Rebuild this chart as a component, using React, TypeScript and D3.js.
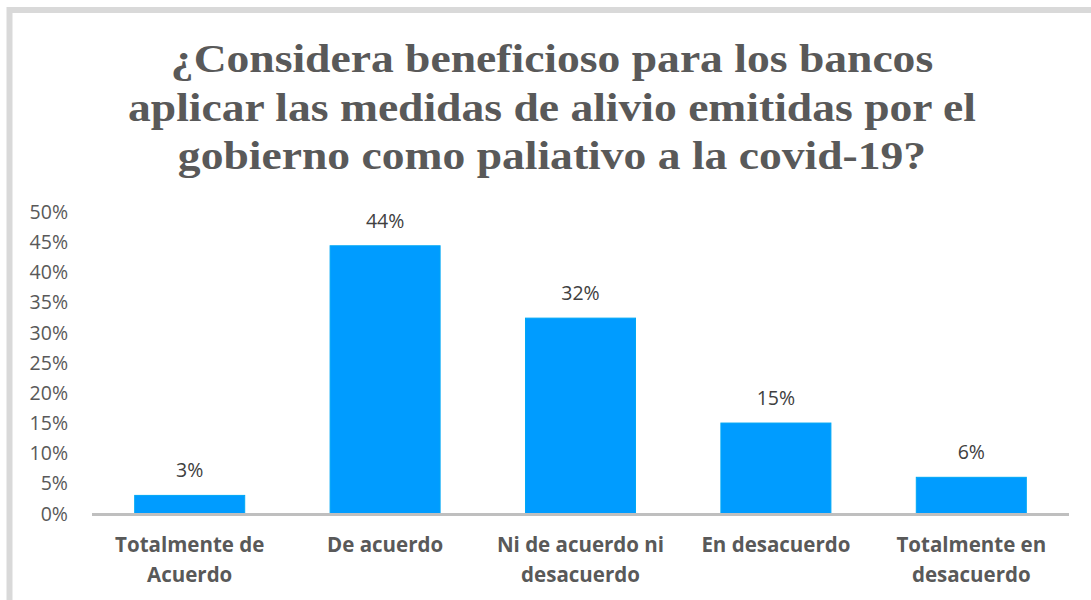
import React from "react";
import * as d3 from "d3";

const categories = [
  ["Totalmente de", "Acuerdo"],
  ["De acuerdo"],
  ["Ni de acuerdo ni", "desacuerdo"],
  ["En desacuerdo"],
  ["Totalmente en", "desacuerdo"],
];
const values = [0.03, 0.444, 0.324, 0.15, 0.06];
const valueLabels = ["3%", "44%", "32%", "15%", "6%"];
const yTicks = [0, 0.05, 0.1, 0.15, 0.2, 0.25, 0.3, 0.35, 0.4, 0.45, 0.5];
const titleLines = [
  "¿Considera beneficioso para los bancos",
  "aplicar las medidas de alivio emitidas por el",
  "gobierno como paliativo a la covid-19?",
];

const W = 1091;
const H = 600;

export default function App() {
  // plot area
  const left = 92;
  const right = 1069;
  const base = 513.5;
  const top = 212;

  const x = d3
    .scaleBand<number>()
    .domain(d3.range(values.length))
    .range([left, right])
    .paddingInner(0.437)
    .paddingOuter(0.2185);

  const y = d3.scaleLinear().domain([0, 0.5]).range([base, top]);
  const fmt = d3.format(".0%");

  const sans = "'Open Sans', sans-serif";
  // the original picture is a bit stretched horizontally
  const stretch = 1.14;

  return (
    <svg
      width={W}
      height={H}
      style={{ position: "absolute", left: 0, top: 0, display: "block", background: "#fff" }}
    >
      {/* frame */}
      <rect x={9.5} y={10} width={1200} height={700} fill="#fff" stroke="#d9d9d9" strokeWidth={6} />

      {/* title */}
      <g
        fontFamily="'Liberation Serif', 'Times New Roman', serif"
        fontWeight="bold"
        fontSize={40}
        fill="#595959"
        textAnchor="middle"
      >
        {titleLines.map((t, i) => (
          <text key={i} transform={`translate(552,${72 + i * 48.5}) scale(${stretch},1)`}>
            {t}
          </text>
        ))}
      </g>

      {/* y ticks */}
      <g fontFamily={sans} fontSize={19.5} fill="#595959" textAnchor="end">
        {yTicks.map((t) => (
          <text key={t} x={68} y={y(t)} dy="0.36em">
            {fmt(t)}
          </text>
        ))}
      </g>

      {/* bars */}
      {values.map((v, i) => (
        <rect
          key={i}
          x={x(i)}
          y={y(v)}
          width={x.bandwidth()}
          height={base - y(v)}
          fill="#009cff"
          stroke="#00a8f5"
          strokeWidth={1}
        />
      ))}

      {/* axis line */}
      <line x1={left} x2={right} y1={base + 1} y2={base + 1} stroke="#bfbfbf" strokeWidth={3} />

      {/* value labels */}
      <g fontFamily={sans} fontSize={19.5} fill="#404040" textAnchor="middle">
        {values.map((v, i) => (
          <text key={i} x={x(i)! + x.bandwidth() / 2} y={y(v) - 18}>
            {valueLabels[i]}
          </text>
        ))}
      </g>

      {/* category labels */}
      <g fontFamily={sans} fontSize={20.5} fontWeight="bold" fill="#595959" textAnchor="middle">
        {categories.map((lines, i) => (
          <text key={i} x={x(i)! + x.bandwidth() / 2} y={552}>
            {lines.map((l, j) => (
              <tspan key={j} x={x(i)! + x.bandwidth() / 2} y={552 + j * 30}>
                {l}
              </tspan>
            ))}
          </text>
        ))}
      </g>
    </svg>
  );
}
